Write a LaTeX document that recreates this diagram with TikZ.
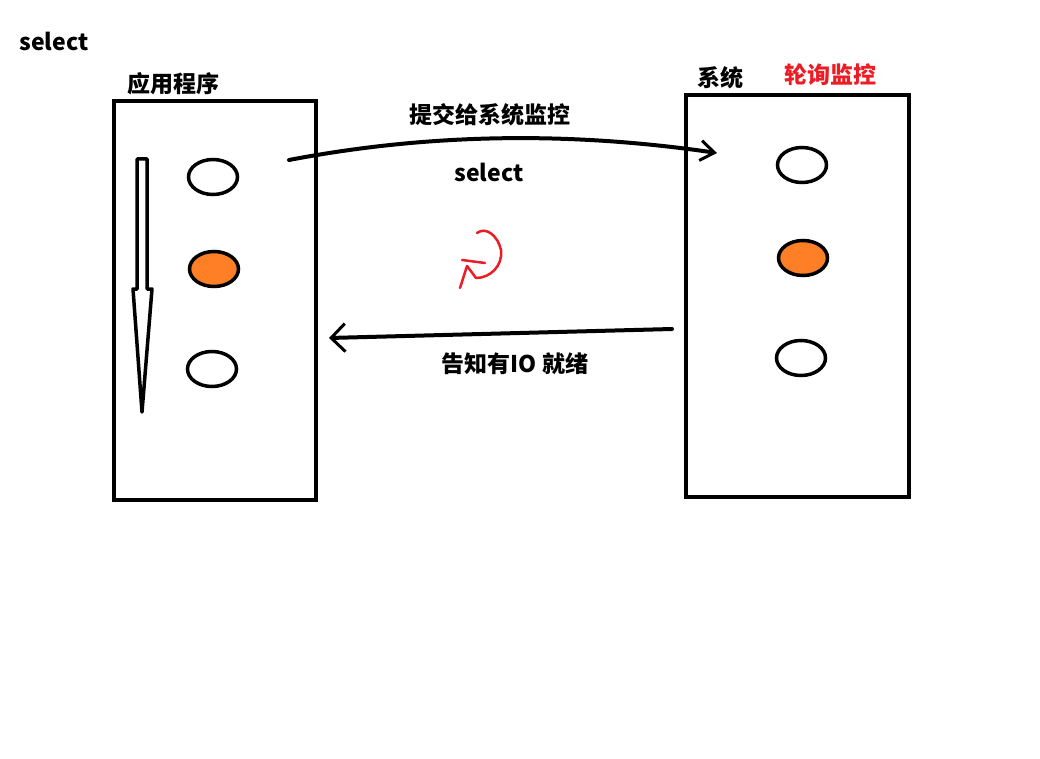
\documentclass[tikz,border=0pt]{standalone}
\usepackage{fontspec}
\newfontfamily\cjk{Noto Sans CJK SC}
\usetikzlibrary{shapes.geometric,arrows.meta}
\definecolor{paintred}{RGB}{237,28,36}
\definecolor{paintorange}{RGB}{255,127,39}
\tikzset{
  box/.style={draw, line width=4pt, rectangle, inner sep=0pt},
  slot/.style={draw, line width=3.5pt, ellipse, minimum width=49pt, minimum height=35pt, inner sep=0pt},
  hot/.style={slot, fill=paintorange},
  lbl/.style={font=\cjk\bfseries\fontsize{23}{26}\selectfont, inner sep=0pt, text height=0.8em, text depth=0.15em},
  wire/.style={line width=4pt, line cap=round, line join=round},
}
\begin{document}
\begin{tikzpicture}[x=1pt,y=-1pt]
\useasboundingbox (0,0) rectangle (1040,759);
% boxes
\node[box, minimum width=202pt, minimum height=399pt] (app) at (215,300.5) {};
\node[box, minimum width=223pt, minimum height=402pt] (sys) at (797.5,296) {};
% slots
\node[slot] (a1) at (213,177) {};
\node[hot]  (a2) at (214,269) {};
\node[slot] (a3) at (212,369) {};
\node[slot] (s1) at (802,165) {};
\node[hot]  (s2) at (803,258) {};
\node[slot] (s3) at (801,358) {};
% labels
\node[lbl] (t0) at (54,47) {select};
\node[lbl] (tapp) at (173,89) {应用程序};
\node[lbl] (tsys) at (720,83) {系统};
\node[lbl, text=paintred] (tpoll) at (830,80) {轮询监控};
\node[lbl] (tsub) at (490,120) {提交给系统监控};
\node[lbl] (tsel) at (489,178) {select};
\node[lbl] (tio) at (515,369) {告知有IO 就绪};
% hollow down arrow
\draw[line width=3.5pt, line join=round] (137,159) -- (147,159) -- (147,289) -- (152,289) -- (142,412) -- (133,289) -- (137,289) -- cycle;
% connectors
\coordinate (p1) at (289,160);
\coordinate (p2) at (717,153);
\coordinate (q1) at (672,329);
\coordinate (q2) at (329,338);
\draw[wire, -{Straight Barb[length=14pt,width=20pt,line width=3pt]}] (p1) .. controls (420,135) and (560,130) .. (p2);
\draw[wire, -{Straight Barb[length=14pt,width=28pt,line width=3pt]}] (q1) -- (q2);
% red squiggle
\draw[paintred, line width=2.5pt, line cap=round, line join=round]
  (477,233) .. controls (486,226) and (498,236) .. (501,250)
  .. controls (503,266) and (490,278) .. (476,278)
  -- (467,266) -- (460,288);
\draw[paintred, line width=2.5pt, line cap=round] (462,260) -- (485,263);
\end{tikzpicture}
\end{document}
